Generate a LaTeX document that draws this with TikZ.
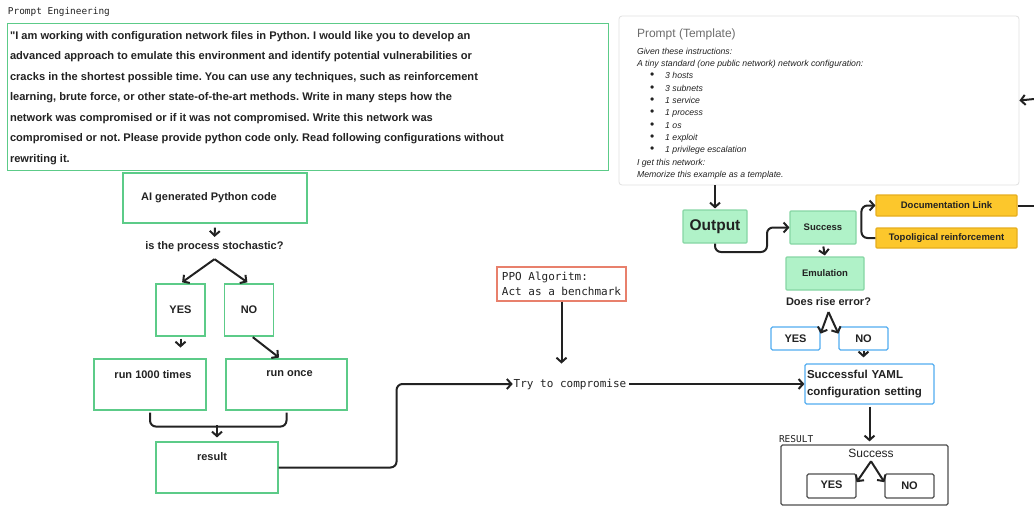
\documentclass[tikz,border=0pt]{standalone}
\usepackage{fontspec}
\setmainfont{Liberation Sans}
\setmonofont{DejaVu Sans Mono}
\usetikzlibrary{arrows.meta,calc}
\definecolor{boxgreen}{HTML}{5CCB88}
\definecolor{fillgreen}{HTML}{B0F2C8}
\definecolor{edgegreen}{HTML}{86D6A4}
\definecolor{fillyellow}{HTML}{FCC72C}
\definecolor{edgeyellow}{HTML}{E6AE1E}
\definecolor{edgeblue}{HTML}{52ACF0}
\definecolor{edgered}{HTML}{E8806C}
\definecolor{inkgray}{HTML}{222222}
\frenchspacing
\begin{document}
\begin{tikzpicture}
        [
           x=1pt, y=-1pt,
           line width=2pt,
           every node/.style={inner sep=0pt, text=inkgray},
           gbox/.style={rectangle, draw=boxgreen, line width=1.1pt},
           mbox/.style={rectangle, draw=edgegreen, fill=fillgreen, line width=1.1pt, rounded corners=1pt, font=\bfseries\fontsize{9.5}{11}\selectfont},
           ybox/.style={rectangle, draw=edgeyellow, fill=fillyellow, line width=1.1pt, rounded corners=1pt, minimum width=141, minimum height=21, font=\bfseries\fontsize{9.5}{11}\selectfont},
           bbox/.style={rectangle, draw=edgeblue, line width=1.2pt, rounded corners=1.5pt, font=\bfseries\fontsize{11}{13}\selectfont},
           kbox/.style={rectangle, draw=inkgray!80, line width=1.2pt, rounded corners=1.5pt},
           bold/.style={font=\bfseries\fontsize{11}{13}\selectfont},
           mono/.style={font=\ttfamily\fontsize{11}{17}\selectfont},
           conn/.style={draw=inkgray, -{Straight Barb[length=4.5pt,width=10pt]}},
           wire/.style={draw=inkgray}
        ]
        \useasboundingbox (0,0) rectangle (1034,506);

        % prompt engineering
        \node[anchor=west, font=\ttfamily\fontsize{9.4}{11}\selectfont] (pe) at (7,12) {Prompt Engineering};
        \node[gbox, anchor=north west, minimum width=601, minimum height=147] (prm) at (7,23) {};
        \node[anchor=north west, align=left, font=\bfseries\fontsize{11.1}{20.5}\selectfont] (prmtxt) at (9,30)
        {\textquotedbl I am working with configuration network files in Python. I would like you to develop an\\
         advanced approach to emulate this environment and identify potential vulnerabilities or\\
         cracks in the shortest possible time. You can use any techniques, such as reinforcement\\
         learning, brute force, or other state-of-the-art methods. Write in many steps how the\\
         network was compromised or if it was not compromised. Write this network was\\
         compromised or not. Please provide python code only. Read following configurations without\\
         rewriting it.};

        % template
        \node[rectangle, draw=gray!25, line width=0.8pt, rounded corners=3pt, minimum width=400, minimum height=169] (tpl) at (819,100.5) {};
        \node[anchor=west, text=gray!85!black, font=\fontsize{12}{14}\selectfont] (tpltitle) at (636,34) {Prompt (Template)};
        \node[anchor=north west, align=left, font=\itshape\fontsize{8.7}{12.3}\selectfont] (tpltxt) at (636,47)
        {Given these instructions:\\
         A tiny standard (one public network) network configuration:\\
         \hspace*{13pt}{\upshape\large\textbullet}\hspace{11pt}3 hosts\\
         \hspace*{13pt}{\upshape\large\textbullet}\hspace{11pt}3 subnets\\
         \hspace*{13pt}{\upshape\large\textbullet}\hspace{11pt}1 service\\
         \hspace*{13pt}{\upshape\large\textbullet}\hspace{11pt}1 process\\
         \hspace*{13pt}{\upshape\large\textbullet}\hspace{11pt}1 os\\
         \hspace*{13pt}{\upshape\large\textbullet}\hspace{11pt}1 exploit\\
         \hspace*{13pt}{\upshape\large\textbullet}\hspace{11pt}1 privilege escalation\\
         I get this network:\\
         Memorize this example as a template.};
        \coordinate (tplin) at (1034,99);
        \draw[conn] (tplin) -- (tpl.east);

        % output side
        \node[mbox, minimum width=64, minimum height=33, font=\bfseries\fontsize{15.5}{18}\selectfont] (out) at (715,226.5) {Output};
        \node[mbox, minimum width=66, minimum height=33] (succ) at (823,227.5) {Success};
        \node[ybox] (doc) at (946.5,205.5) {Documentation Link};
        \node[ybox, minimum height=20] (topo) at (946.5,238) {Topoligical reinforcement};
        \node[mbox, minimum width=78, minimum height=33] (emu) at (825,273.5) {Emulation};
        \node[bold] (err) at (828.5,302) {Does rise error?};
        \node[bbox, minimum width=49, minimum height=23] (eyes) at (795.5,338.5) {YES};
        \node[bbox, minimum width=49, minimum height=23] (eno) at (863.5,338.5) {NO};
        \node[bbox, minimum width=129, minimum height=40, align=left, text width=125, font=\bfseries\fontsize{11.5}{17}\selectfont] (yaml) at (869.5,384)
        {Successful YAML\\configuration setting};
        \coordinate (docend) at (1034,205.5);

        \draw[conn, shorten >=1pt] (out.north |- tpl.south) -- (out.north);
        \draw[conn, rounded corners=6pt] (out.south) |- (767,252) |- (succ.west);
        \draw[conn, rounded corners=6pt] (topo.west) -- ++(-14,0) |- (doc.west);
        \draw[wire] (doc.east) -- (docend);
        \draw[conn, shorten <=2pt, shorten >=1pt] (succ.south) -- (emu.north);
        \draw[conn] ([yshift=-5pt]err.south) -- ($(eyes.north east)!0.3!(eyes.south east)$);
        \draw[conn] ([yshift=-5pt]err.south) -- ($(eno.north west)!0.3!(eno.south west)$);
        \draw[conn, shorten >=6pt] (eno.south) -- (yaml.north -| eno.south);

        % result
        \node[anchor=west, font=\ttfamily\fontsize{9.5}{11}\selectfont] (reslbl) at (778,439) {RESULT};
        \node[kbox, minimum width=167, minimum height=60] (resbox) at (864.5,475) {};
        \node[font=\fontsize{12}{14}\selectfont] (rsucc) at (871,453) {Success};
        \node[kbox, minimum width=49, minimum height=24, font=\bfseries\fontsize{11}{13}\selectfont] (ryes) at (831.5,486) {\raisebox{2pt}{YES}};
        \node[kbox, minimum width=49, minimum height=24, font=\bfseries\fontsize{11}{13}\selectfont] (rno) at (909.5,486) {NO};
        \draw[conn, shorten <=2pt, shorten >=3pt] (yaml.south) -- (yaml.south |- resbox.north);
        \draw[conn] ([yshift=-3pt]rsucc.south) -- ($(ryes.north east)!0.35!(ryes.south east)$);
        \draw[conn] ([yshift=-3pt]rsucc.south) -- ($(rno.north west)!0.35!(rno.south west)$);

        % left side
        \node[gbox, minimum width=184, minimum height=50, bold] (ai) at (215,198) {\hspace*{-12pt}AI generated Python code};
        \node[bold] (stoch) at (214.5,247) {is the process stochastic?};
        \node[gbox, minimum width=49, minimum height=52, bold] (ys) at (180.5,310) {YES};
        \node[gbox, minimum width=49, minimum height=52, bold] (ns) at (249,310) {NO};
        \node[gbox, minimum width=112, minimum height=51, label={[bold, anchor=north, yshift=-11pt, xshift=3pt]north:run 1000 times}] (rk) at (150,384.5) {};
        \node[gbox, minimum width=121, minimum height=51, label={[bold, anchor=north, yshift=-11pt, xshift=3pt]north:run once}] (ro) at (286.5,384.5) {};
        \node[gbox, minimum width=122, minimum height=51, label={[bold, anchor=north, yshift=-10pt, xshift=-5pt]north:result}] (res) at (217,467.5) {};

        \draw[conn, shorten <=4pt, shorten >=4pt] (ai.south) -- (stoch.north);
        \draw[conn, shorten >=2pt] ([yshift=-6pt]stoch.south) -- (ys.north);
        \draw[conn, shorten >=2pt] ([yshift=-6pt]stoch.south) -- (ns.north);
        \draw[conn, shorten <=2pt] (ys.south) -- ++(0,11);
        \draw[conn, shorten <=1pt] (ns.south) ++(3,0) -- ++(27,21);
        \draw[wire, rounded corners=6pt] (rk.south) ++(0,2) -- ++(0,14) -| ([yshift=-2pt]ro.south);
        \draw[conn, shorten >=4pt] ([yshift=16pt]res.north) -- (res.north);

        % benchmark
        \node[rectangle, draw=edgered, line width=1.1pt, minimum width=129, minimum height=34, align=left, mono] (ppo) at (561.5,284)
        {\raisebox{-2pt}{PPO Algoritm:}\\Act as a benchmark};
        \node[mono] (try) at (570,384) {Try to compromise};
        \draw[conn, rounded corners=6pt] (res.east) -- ++(118,0) |- (try.west);
        \draw[conn] (ppo.south) -- ++(0,62);
        \draw[conn, shorten <=2pt] (try.east) -- (try.east -| yaml.west);
\end{tikzpicture}
\end{document}
